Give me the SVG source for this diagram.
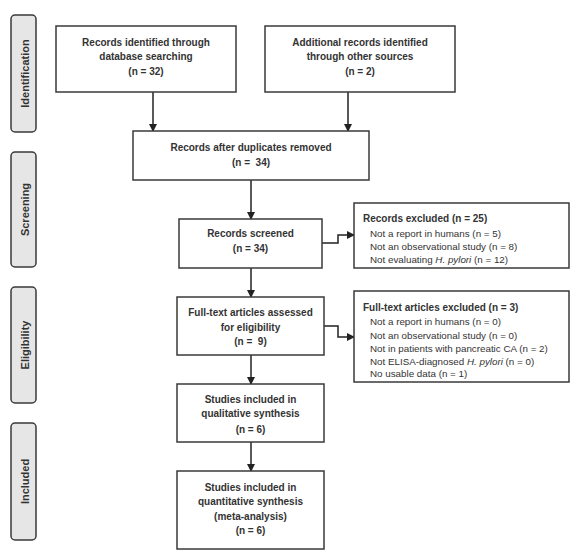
<svg xmlns="http://www.w3.org/2000/svg" width="576" height="556" viewBox="0 0 576 556">
<style>
.box{fill:#fff;stroke:#3a3a3a;stroke-width:1.5}
.side{fill:#e6e6e6;stroke:#3a3a3a;stroke-width:1.5}
.t{font-family:"Liberation Sans",Arial,sans-serif;font-size:10px;font-weight:bold;fill:#333;text-anchor:middle}
.s{font-family:"Liberation Sans",Arial,sans-serif;font-size:11px;font-weight:bold;fill:#333;text-anchor:middle}
.l{font-family:"Liberation Sans",Arial,sans-serif;font-size:9.8px;fill:#333}
.lb{font-family:"Liberation Sans",Arial,sans-serif;font-size:10px;font-weight:bold;fill:#333}
.c{fill:none;stroke:#222;stroke-width:1.5}
</style>
<defs>
<marker id="ah" markerWidth="8" markerHeight="8" refX="7" refY="4" orient="auto" markerUnits="userSpaceOnUse">
<path d="M0,0 L8,4 L0,8 Z" fill="#222"/>
</marker>
</defs>
<rect width="576" height="556" fill="#fff"/>
<g id="side-identification"><rect class="side" x="11" y="15" width="25" height="117" rx="4"/><text class="s" transform="translate(28.5,73.5) rotate(-90)">Identification</text></g>
<g id="side-screening"><rect class="side" x="11" y="152" width="25" height="115" rx="4"/><text class="s" transform="translate(28.5,209.5) rotate(-90)">Screening</text></g>
<g id="side-eligibility"><rect class="side" x="11" y="287" width="25" height="116" rx="4"/><text class="s" transform="translate(28.5,345) rotate(-90)">Eligibility</text></g>
<g id="side-included"><rect class="side" x="11" y="423" width="25" height="117" rx="4"/><text class="s" transform="translate(28.5,481.5) rotate(-90)">Included</text></g>

<g id="connectors">
<line class="c" x1="153" y1="92" x2="153" y2="131" marker-end="url(#ah)"/>
<line class="c" x1="348" y1="92" x2="348" y2="131" marker-end="url(#ah)"/>
<line class="c" x1="251" y1="180" x2="251" y2="219" marker-end="url(#ah)"/>
<line class="c" x1="251" y1="268" x2="251" y2="297" marker-end="url(#ah)"/>
<line class="c" x1="251" y1="355" x2="251" y2="384" marker-end="url(#ah)"/>
<line class="c" x1="251" y1="442" x2="251" y2="471" marker-end="url(#ah)"/>
<polyline class="c" points="322,243 338,243 338,235 354,235" marker-end="url(#ah)"/>
<polyline class="c" points="324,326 338,326 338,337 354,337" marker-end="url(#ah)"/>
</g>

<g id="n-db"><rect class="box" x="56" y="26" width="180" height="66"/>
<text class="t" x="146" y="46">Records identified through</text>
<text class="t" x="146" y="60">database searching</text>
<text class="t" x="146" y="75">(n = 32)</text></g>

<g id="n-other"><rect class="box" x="265" y="26" width="190" height="66"/>
<text class="t" x="360" y="46">Additional records identified</text>
<text class="t" x="360" y="60">through other sources</text>
<text class="t" x="360" y="75">(n = 2)</text></g>

<g id="n-dup"><rect class="box" x="133" y="131" width="236" height="49"/>
<text class="t" x="251" y="151">Records after duplicates removed</text>
<text class="t" x="251" y="166">(n =&#160; 34)</text></g>

<g id="n-screened"><rect class="box" x="179" y="219" width="143" height="49"/>
<text class="t" x="250.5" y="237">Records screened</text>
<text class="t" x="250.5" y="252">(n = 34)</text></g>

<g id="n-excl1"><rect class="box" x="354" y="203" width="215" height="65"/>
<text class="lb" x="363" y="222">Records excluded (n = 25)</text>
<text class="l" x="370" y="237">Not a report in humans (n = 5)</text>
<text class="l" x="370" y="250">Not an observational study (n = 8)</text>
<text class="l" x="370" y="263">Not evaluating <tspan font-style="italic">H. pylori</tspan> (n = 12)</text></g>

<g id="n-fulltext"><rect class="box" x="177" y="297" width="147" height="58"/>
<text class="t" x="250.5" y="316">Full-text articles assessed</text>
<text class="t" x="250.5" y="331">for eligibility</text>
<text class="t" x="250.5" y="345">(n =&#160; 9)</text></g>

<g id="n-excl2"><rect class="box" x="354" y="291" width="215" height="91"/>
<text class="lb" x="363" y="311">Full-text articles excluded (n = 3)</text>
<text class="l" x="370" y="325">Not a report in humans (n = 0)</text>
<text class="l" x="370" y="339">Not an observational study (n = 0)</text>
<text class="l" x="370" y="352">Not in patients with pancreatic CA (n = 2)</text>
<text class="l" x="370" y="365">Not ELISA-diagnosed <tspan font-style="italic">H. pylori</tspan> (n = 0)</text>
<text class="l" x="370" y="377">No usable data (n = 1)</text></g>

<g id="n-qual"><rect class="box" x="177" y="384" width="147" height="58"/>
<text class="t" x="250.5" y="403">Studies included in</text>
<text class="t" x="250.5" y="417">qualitative synthesis</text>
<text class="t" x="250.5" y="433">(n = 6)</text></g>

<g id="n-quant"><rect class="box" x="177" y="471" width="147" height="78"/>
<text class="t" x="250.5" y="491">Studies included in</text>
<text class="t" x="250.5" y="505">quantitative synthesis</text>
<text class="t" x="250.5" y="520">(meta-analysis)</text>
<text class="t" x="250.5" y="534">(n = 6)</text></g>
</svg>
